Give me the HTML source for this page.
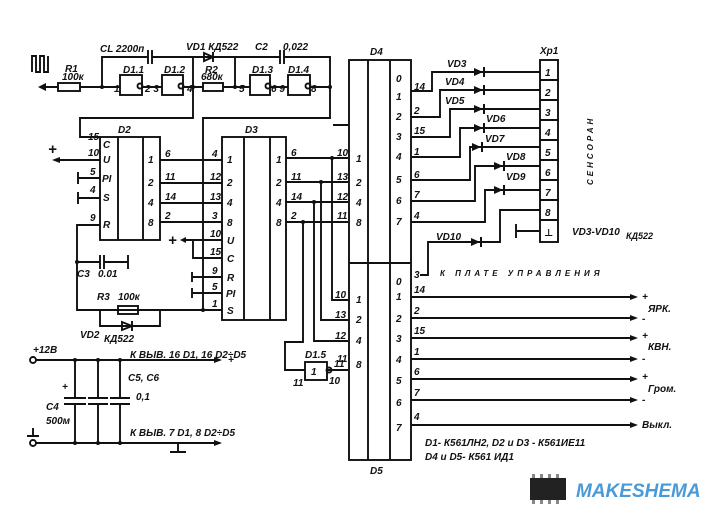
<!DOCTYPE html>
<html><head><meta charset="utf-8"><style>
html,body{margin:0;padding:0;background:#fff}
svg{display:block}
text{font-family:"Liberation Sans","DejaVu Sans",sans-serif;font-weight:bold;font-style:italic;fill:#111}
</style></head><body>
<svg width="720" height="520" viewBox="0 0 720 520" xmlns="http://www.w3.org/2000/svg">
<g stroke="#111" stroke-width="1.9" fill="none">
<path d="M32 72 V56 H36 V72 H40 V56 H44 V72 H48 V56"/>
<path d="M44 87 H58 M80 87 H120 M142 87 H162 M183 87 H203 M223 87 H250 M270 87 H288 M310 87 H330"/>
<rect x="58" y="83" width="22" height="8"/>
<rect x="203" y="83" width="20" height="8"/>
<rect x="120" y="75" width="22" height="20"/><rect x="162" y="75" width="21" height="20"/>
<rect x="250" y="75" width="20" height="20"/><rect x="288" y="75" width="22" height="20"/>
<path d="M102 87 V57 H148 M152 57 H193 V118 H80 V137 H100 M193 57 H235 V87 M235 57 H280 M284 57 H330 V118 H203 V310 H222"/>
<path d="M148 50 V64 M152 50 V64 M280 50 V64 M284 50 V64"/>
<path d="M204 53 L213 57 L204 61 Z M213 52 V62"/>
<rect x="100" y="137" width="60" height="103"/><path d="M118 137 V240 M143 137 V240"/>
<path d="M60 160 H100 M78 172 V184 M78 178 H100 M78 192 V204 M78 198 H100 M100 225 H77 V310 H203"/>
<path d="M77 262 H100 M100 255 V269 M104 255 V269 M104 262 H128 M128 255 V269"/>
<rect x="118" y="306" width="20" height="8"/>
<path d="M100 310 V326 H160 V310 M122 322 L132 326 L122 330 Z M132 321 V331"/>
<path d="M160 160 H222 M160 183 H222 M160 203 H222 M160 222 H222"/>
<rect x="222" y="137" width="64" height="183"/><path d="M244 137 V320 M270 137 V320"/>
<path d="M186 240 H222 M193 240 V258 H222 M192 272 V282 M192 277 H222 M192 288 V298 M192 293 H222"/>
<path d="M286 158 H348 M286 182 H348 M286 202 H348 M286 222 H348"/>
<path d="M332 158 V300 H348 M321 182 V320 H348 M314 202 V341 H348 M303 222 V342 H285 V370 H305 M327 370 H348"/>
<rect x="305" y="362" width="22" height="18"/><circle cx="329" cy="370" r="2.5"/>
<circle cx="140" cy="86" r="2.5"/><circle cx="181" cy="86" r="2.5"/><circle cx="268" cy="86" r="2.5"/><circle cx="308" cy="86" r="2.5"/>
<rect x="349" y="60" width="62" height="400"/><path d="M368 60 V460 M390 60 V460 M349 263 H411 M333 125 H349"/>
<rect x="540" y="60" width="18" height="182"/>
<path d="M540 80 H558 M540 100 H558 M540 120 H558 M540 140 H558 M540 160 H558 M540 180 H558 M540 200 H558 M540 220 H558"/>
<path d="M411 91 H432 V72 H540 M411 117 H440 V90 H540 M411 137 H450 V109 H540 M411 157 H460 V128 H540 M411 180 H470 V147 H540 M411 201 H475 V166 H540 M411 222 H485 V190 H540 M420 275 H428 V242 H500 V210 H540 M516 231 H540 M516 224 V238"/>
<path d="M411 297 H630 M411 318 H630 M411 338 H630 M411 359 H630 M411 379 H630 M411 400 H630 M411 425 H630"/>
<circle cx="33" cy="360" r="3"/><circle cx="33" cy="443" r="3"/>
<path d="M36 360 H220 M36 443 H220 M75 360 V398 M75 404 V443 M98 360 V398 M98 404 V443 M120 360 V398 M120 404 V443 M64 398 H86 M64 404 H86 M88 398 H108 M88 404 H108 M110 398 H130 M110 404 H130 M178 443 V452 M170 452 H186 M33 436 V428 M27 436 H39"/>
</g>
<g fill="#111">
<path d="M38 83 L46 87 L38 91Z" transform="rotate(180 42 87)"/>
<path d="M60 157 L52 160 L60 163Z"/><path d="M186 237 L180 240 L186 243Z"/>
<path d="M474 68 L483 72 L474 76Z M483 67 h2 v10 h-2Z"/>
<path d="M474 86 L483 90 L474 94Z M483 85 h2 v10 h-2Z"/>
<path d="M474 105 L483 109 L474 113Z M483 104 h2 v10 h-2Z"/>
<path d="M474 124 L483 128 L474 132Z M483 123 h2 v10 h-2Z"/>
<path d="M472 143 L481 147 L472 151Z M481 142 h2 v10 h-2Z"/>
<path d="M494 162 L503 166 L494 170Z M503 161 h2 v10 h-2Z"/>
<path d="M494 186 L503 190 L494 194Z M503 185 h2 v10 h-2Z"/>
<path d="M471 238 L480 242 L471 246Z M480 237 h2 v10 h-2Z"/>
<path d="M630 294 L638 297 L630 300Z M630 315 L638 318 L630 321Z M630 335 L638 338 L630 341Z M630 356 L638 359 L630 362Z M630 376 L638 379 L630 382Z M630 397 L638 400 L630 403Z M630 422 L638 425 L630 428Z"/>
<path d="M214 357 L222 360 L214 363Z M214 440 L222 443 L214 446Z"/>
<circle cx="102" cy="87" r="2"/><circle cx="193" cy="87" r="2"/><circle cx="235" cy="87" r="2"/><circle cx="330" cy="87" r="2"/>
<circle cx="332" cy="158" r="2"/><circle cx="321" cy="182" r="2"/><circle cx="314" cy="202" r="2"/><circle cx="303" cy="222" r="2"/>
<circle cx="203" cy="310" r="2"/><circle cx="77" cy="262" r="2"/>
<circle cx="75" cy="360" r="2"/><circle cx="98" cy="360" r="2"/><circle cx="120" cy="360" r="2"/>
<circle cx="75" cy="443" r="2"/><circle cx="98" cy="443" r="2"/><circle cx="120" cy="443" r="2"/>
</g>
<g font-size="10">
<text x="100" y="52">CL 2200п</text><text x="186" y="50">VD1 КД522</text><text x="255" y="50">C2</text><text x="283" y="50">0,022</text>
<text x="65" y="72">R1</text><text x="62" y="80">100к</text>
<text x="123" y="73">D1.1</text><text x="164" y="73">D1.2</text><text x="205" y="73">R2</text><text x="201" y="80">680к</text>
<text x="252" y="73">D1.3</text><text x="288" y="73">D1.4</text>
<text x="114" y="92">1</text><text x="145" y="92">2 3</text><text x="187" y="92">4</text><text x="239" y="92">5</text><text x="271" y="92">6 9</text><text x="311" y="92">8</text>
<text x="118" y="133">D2</text><text x="245" y="133">D3</text><text x="370" y="55">D4</text><text x="370" y="474">D5</text>
<text x="88" y="140">15</text><text x="88" y="156">10</text><text x="90" y="175">5</text><text x="90" y="193">4</text><text x="90" y="221">9</text>
<text x="103" y="148">C</text><text x="103" y="163">U</text><text x="102" y="182">PI</text><text x="103" y="201">S</text><text x="103" y="228">R</text>
<text x="148" y="163">1</text><text x="148" y="186">2</text><text x="148" y="206">4</text><text x="148" y="226">8</text>
<text x="165" y="157">6</text><text x="165" y="180">11</text><text x="165" y="200">14</text><text x="165" y="219">2</text>
<text x="212" y="157">4</text><text x="210" y="180">12</text><text x="210" y="200">13</text><text x="212" y="219">3</text><text x="210" y="237">10</text><text x="210" y="255">15</text><text x="212" y="274">9</text><text x="212" y="290">5</text><text x="212" y="307">1</text>
<text x="227" y="163">1</text><text x="227" y="186">2</text><text x="227" y="206">4</text><text x="227" y="226">8</text><text x="227" y="244">U</text><text x="227" y="262">C</text><text x="227" y="281">R</text><text x="226" y="297">PI</text><text x="227" y="314">S</text>
<text x="276" y="163">1</text><text x="276" y="186">2</text><text x="276" y="206">4</text><text x="276" y="226">8</text>
<text x="291" y="156">6</text><text x="291" y="180">11</text><text x="291" y="200">14</text><text x="291" y="219">2</text>
<text x="337" y="156">10</text><text x="337" y="180">13</text><text x="337" y="200">12</text><text x="337" y="219">11</text>
<text x="335" y="298">10</text><text x="335" y="318">13</text><text x="335" y="339">12</text><text x="337" y="362">11</text>
<text x="356" y="162">1</text><text x="356" y="186">2</text><text x="356" y="206">4</text><text x="356" y="226">8</text>
<text x="356" y="303">1</text><text x="356" y="323">2</text><text x="356" y="344">4</text><text x="356" y="368">8</text>
<text x="396" y="82">0</text><text x="396" y="100">1</text><text x="396" y="120">2</text><text x="396" y="140">3</text><text x="396" y="160">4</text><text x="396" y="183">5</text><text x="396" y="204">6</text><text x="396" y="225">7</text>
<text x="396" y="285">0</text><text x="396" y="300">1</text><text x="396" y="322">2</text><text x="396" y="342">3</text><text x="396" y="363">4</text><text x="396" y="384">5</text><text x="396" y="406">6</text><text x="396" y="431">7</text>
<text x="414" y="90">14</text><text x="414" y="114">2</text><text x="414" y="134">15</text><text x="414" y="155">1</text><text x="414" y="178">6</text><text x="414" y="198">7</text><text x="414" y="219">4</text>
<text x="414" y="278">3</text><text x="414" y="293">14</text><text x="414" y="314">2</text><text x="414" y="334">15</text><text x="414" y="355">1</text><text x="414" y="375">6</text><text x="414" y="396">7</text><text x="414" y="420">4</text>
<text x="447" y="67">VD3</text><text x="445" y="85">VD4</text><text x="445" y="104">VD5</text><text x="486" y="122">VD6</text><text x="485" y="142">VD7</text><text x="506" y="160">VD8</text><text x="506" y="180">VD9</text><text x="436" y="240">VD10</text>
<text x="540" y="54">Xp1</text>
<text x="545" y="76">1</text><text x="545" y="96">2</text><text x="545" y="116">3</text><text x="545" y="136">4</text><text x="545" y="156">5</text><text x="545" y="176">6</text><text x="545" y="196">7</text><text x="545" y="216">8</text><text x="544" y="236">⊥</text>
<text x="572" y="235">VD3-VD10</text><text x="626" y="239" font-size="9">КД522</text>
<text transform="translate(593 185) rotate(-90)" font-size="8" letter-spacing="3">СЕНСОРАН</text>
<text x="440" y="276" font-size="8" letter-spacing="4">К ПЛАТЕ УПРАВЛЕНИЯ</text>
<text x="642" y="300">+</text><text x="648" y="312">ЯРК.</text><text x="642" y="322">-</text>
<text x="642" y="339">+</text><text x="648" y="350">КВН.</text><text x="642" y="362">-</text>
<text x="642" y="380">+</text><text x="648" y="392">Гром.</text><text x="642" y="403">-</text>
<text x="642" y="428">Выкл.</text>
<text x="425" y="446">D1- К561ЛН2, D2 и D3 - К561ИЕ11</text>
<text x="425" y="460">D4 и D5- К561 ИД1</text>
<text x="305" y="358">D1.5</text><text x="311" y="375">1</text><text x="293" y="386">11</text><text x="329" y="384">10</text><text x="334" y="367">11</text>
<text x="77" y="277">C3</text><text x="98" y="277">0.01</text><text x="97" y="300">R3</text><text x="118" y="300">100к</text>
<text x="80" y="338">VD2</text><text x="104" y="342">КД522</text>
<text x="33" y="353">+12В</text><text x="130" y="358">К ВЫВ. 16 D1, 16 D2÷D5</text><text x="228" y="363">+</text>
<text x="62" y="390">+</text><text x="128" y="381">C5, C6</text><text x="136" y="400">0,1</text>
<text x="46" y="410">C4</text><text x="46" y="424">500м</text><text x="130" y="436">К ВЫВ. 7 D1, 8 D2÷D5</text>
<text x="48" y="154" font-size="15">+</text><text x="168" y="245" font-size="15">+</text>
</g>
<rect x="530" y="478" width="36" height="22" fill="#222"/>
<g fill="#888"><rect x="532" y="474" width="3" height="4"/><rect x="540" y="474" width="3" height="4"/><rect x="548" y="474" width="3" height="4"/><rect x="556" y="474" width="3" height="4"/><rect x="532" y="500" width="3" height="4"/><rect x="540" y="500" width="3" height="4"/><rect x="548" y="500" width="3" height="4"/><rect x="556" y="500" width="3" height="4"/></g>
<text x="576" y="497" font-size="19" font-style="normal" font-weight="normal" style="fill:#4a9ad8">MAKESHEMA</text>
</svg>
</body></html>
